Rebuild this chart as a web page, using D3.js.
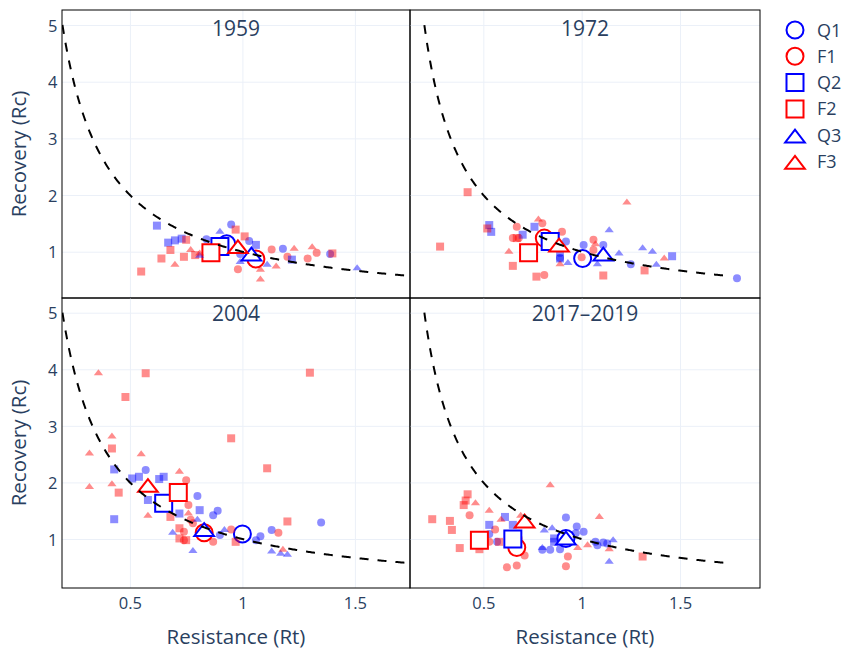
<!DOCTYPE html>
<html>
<head>
<meta charset="utf-8">
<script src="https://cdn.jsdelivr.net/npm/d3@7"></script>
<style>
  html, body { margin: 0; padding: 0; background: #fff; }
  svg { font-family: 'Open Sans', verdana, arial, sans-serif; }
</style>
</head>
<body>
<div id="chart"></div>
<script>
// Resistance / recovery facets (one panel per period)
var panelTitles = ['1959', '1972', '2004', '2017–2019'];
var groupNames = ['Q1', 'F1', 'Q2', 'F2', 'Q3', 'F3'];
var groupColors = ['blue', 'red', 'blue', 'red', 'blue', 'red'];
var groupSymbols = ['circle', 'circle', 'square', 'square', 'triangle', 'triangle'];
var xTicks = [0.5, 1, 1.5];
var yTicks = [1, 2, 3, 4, 5];
var curveRange = [0.2, 1.75]; // reference curve Rc = 1 / Rt

// individual points: [group, Rt, Rc]
var pts1959 = [
  ['Q1',0.95,1.48],['Q1',0.84,1.22],['Q1',1.03,1.19],['Q1',1.18,1.05],['Q1',1.39,0.96],['Q1',0.99,0.96],
  ['Q2',0.62,1.46],['Q2',0.67,1.16],['Q2',0.70,1.20],['Q2',0.73,1.23],['Q2',1.06,1.12],['Q2',1.22,0.86],
  ['Q3',0.90,1.35],['Q3',0.81,0.93],['Q3',1.11,0.77],['Q3',1.51,0.71],['Q3',0.99,0.82],
  ['F1',1.13,1.04],['F1',1.29,0.88],['F1',0.98,0.69],['F1',1.20,0.91],['F1',1.33,0.98],
  ['F2',0.97,1.39],['F2',1.01,1.27],['F2',0.75,1.21],['F2',0.68,1.03],['F2',0.64,0.88],['F2',0.55,0.65],
  ['F2',0.74,0.91],['F2',0.79,0.94],['F2',1.40,0.97],
  ['F3',0.77,1.03],['F3',0.70,0.77],['F3',1.15,0.74],['F3',1.08,0.51],['F3',1.23,1.05],['F3',1.31,1.08],
  ['F3',1.08,0.68],['F3',0.81,0.97]
];
var pts1972 = [
  ['Q1',1.79,0.53],['Q1',1.25,0.78],['Q1',0.89,0.89],['Q1',1.01,1.12],['Q1',1.11,1.12],['Q1',0.92,1.18],['Q1',0.89,0.98],
  ['Q2',0.53,1.47],['Q2',0.54,1.35],['Q2',0.76,1.44],['Q2',0.70,1.30],['Q2',1.46,0.92],['Q2',0.89,0.88],
  ['Q3',1.14,1.38],['Q3',1.31,1.06],['Q3',1.36,1.00],['Q3',1.38,0.77],['Q3',1.19,0.97],['Q3',0.93,0.80],['Q3',1.08,0.78],
  ['F1',0.80,1.50],['F1',0.67,1.44],['F1',0.90,1.35],['F1',0.68,1.24],['F1',1.06,1.21],['F1',0.81,0.59],
  ['F1',0.65,1.24],['F1',1.06,1.03],['F1',1.00,0.90],
  ['F2',0.42,2.05],['F2',0.28,1.09],['F2',0.52,1.41],['F2',0.65,0.75],['F2',0.77,0.56],['F2',1.11,0.58],
  ['F2',1.32,0.67],['F2',0.67,1.24],
  ['F3',1.23,1.87],['F3',0.78,1.57],['F3',0.63,1.00],['F3',1.42,0.88],['F3',0.89,0.78],['F3',1.07,1.13]
];
var pts2004 = [
  ['Q1',0.57,2.22],['Q1',0.80,1.76],['Q1',0.87,1.42],['Q1',0.89,1.50],['Q1',1.13,1.16],['Q1',1.35,1.29],
  ['Q1',1.08,1.05],['Q1',1.06,0.98],['Q1',0.90,1.07],
  ['Q2',0.43,1.35],['Q2',0.43,2.23],['Q2',0.51,2.07],['Q2',0.54,2.10],['Q2',0.63,2.06],['Q2',0.65,2.10],
  ['Q2',0.58,1.69],['Q2',0.81,1.51],['Q2',0.72,1.45],
  ['Q3',0.69,1.11],['Q3',0.78,0.79],['Q3',1.13,0.78],['Q3',1.17,0.74],['Q3',1.20,0.72],['Q3',0.92,1.16],['Q3',0.80,1.34],
  ['F1',0.75,2.04],['F1',0.76,1.60],['F1',0.77,1.34],['F1',1.16,1.11],['F1',0.95,1.17],['F1',0.87,0.95],
  ['F1',0.74,0.98],['F1',0.78,1.28],['F1',0.74,1.13],
  ['F2',0.57,3.93],['F2',1.30,3.94],['F2',0.48,3.51],['F2',0.95,2.78],['F2',0.42,2.60],['F2',1.11,2.25],
  ['F2',0.45,1.82],['F2',1.20,1.31],['F2',0.68,1.39],['F2',0.72,1.01],['F2',0.75,0.98],['F2',0.72,1.19],['F2',0.97,0.95],
  ['F3',0.36,3.93],['F3',0.42,2.81],['F3',0.32,2.51],['F3',0.55,2.50],['F3',0.42,1.97],['F3',0.32,1.92],
  ['F3',0.72,2.19],['F3',0.58,1.41],['F3',0.76,1.45],['F3',1.18,0.81]
];
var pts2019 = [
  ['Q1',0.92,1.38],['Q1',1.01,1.13],['Q1',0.89,0.82],['Q1',1.08,0.89],['Q1',1.11,0.94],['Q1',0.84,0.81],
  ['Q1',0.53,1.09],['Q1',1.13,0.92],['Q1',0.80,0.81],['Q1',1.07,0.95],['Q1',0.97,1.10],['Q1',0.975,1.22],['Q1',0.57,0.95],
  ['Q2',0.61,1.39],['Q2',0.53,1.25],['Q2',0.86,0.95],['Q2',0.65,1.25],['Q2',0.86,1.01],
  ['Q3',1.14,0.60],['Q3',1.16,0.98],['Q3',0.80,0.84],['Q3',0.81,1.15],['Q3',0.90,0.94],['Q3',0.85,1.19],
  ['F1',0.43,1.42],['F1',0.62,0.50],['F1',0.67,0.53],['F1',0.92,0.52],['F1',0.93,0.69],['F1',0.71,0.71],
  ['F1',0.56,1.17],['F1',0.53,0.95],['F1',0.68,1.01],
  ['F2',0.24,1.35],['F2',0.33,1.32],['F2',0.34,1.16],['F2',0.38,0.84],['F2',0.42,1.79],['F2',0.41,1.68],
  ['F2',0.40,1.60],['F2',0.48,0.82],['F2',1.31,0.69],['F2',0.58,0.95],
  ['F3',0.84,1.95],['F3',1.09,1.39],['F3',0.46,1.63],['F3',0.53,1.50],['F3',0.59,1.34],['F3',1.14,0.82],
  ['F3',1.03,0.89],['F3',0.98,0.84],['F3',0.69,1.41]
];

// group means: [group, Rt, Rc]
var means1959 = [['Q1',0.93,1.14],['F1',1.06,0.87],['Q2',0.90,1.09],['F2',0.86,0.98],['Q3',1.04,0.92],['F3',0.98,1.05]];
var means1972 = [['Q1',1.005,0.88],['F1',0.81,1.24],['Q2',0.84,1.18],['F2',0.73,0.98],['Q3',1.11,0.92],['F3',0.885,1.08]];
var means2004 = [['Q1',1.00,1.09],['F1',0.83,1.11],['Q2',0.65,1.63],['F2',0.715,1.82],['Q3',0.83,1.13],['F3',0.58,1.91]];
var means2019 = [['Q1',0.92,1.01],['F1',0.67,0.85],['Q2',0.65,1.00],['F2',0.48,0.98],['Q3',0.92,0.98],['F3',0.71,1.28]];

(function(){
  var W = 848, H = 657;
  var textColor = '#2a3f5f';
  var fontFamily = "'Open Sans', verdana, arial, sans-serif";
  var cols = [
    { px: [62, 410], dom: [0.198, 1.745] },
    { px: [410, 760], dom: [0.127, 1.907] }
  ];
  var rows = [
    { px: [298, 10], dom: [0.183, 5.265], titleY: 36 },
    { px: [588, 298], dom: [0.134, 5.26], titleY: 321 }
  ];
  var panels = [
    { title: panelTitles[0], pts: pts1959, means: means1959, col: 0, row: 0 },
    { title: panelTitles[1], pts: pts1972, means: means1972, col: 1, row: 0 },
    { title: panelTitles[2], pts: pts2004, means: means2004, col: 0, row: 1 },
    { title: panelTitles[3], pts: pts2019, means: means2019, col: 1, row: 1 }
  ];

  // plotly-like symbol paths (size = marker diameter)
  function symbolPath(sym, size){
    var r = size / 2;
    if (sym === 'square') return 'M' + r + ',' + r + 'H-' + r + 'V-' + r + 'H' + r + 'Z';
    if (sym === 'triangle'){
      var rt = r * 2 / Math.sqrt(3);
      return 'M-' + rt + ',' + (r / 2) + 'H' + rt + 'L0,-' + r + 'Z';
    }
    return 'M' + r + ',0A' + r + ',' + r + ' 0 1,1 0,-' + r + 'A' + r + ',' + r + ' 0 0,1 ' + r + ',0Z';
  }

  var svg = d3.select('#chart').append('svg')
    .attr('width', W).attr('height', H);

  function cleanGrid(sel){
    sel.select('.domain').remove();
    sel.selectAll('line').attr('stroke', '#ebf0f8').attr('stroke-width', 1);
  }

  panels.forEach(function(p, i){
    var c = cols[p.col], r = rows[p.row];
    var x = d3.scaleLinear().domain(c.dom).range(c.px);
    var y = d3.scaleLinear().domain(r.dom).range(r.px);
    var x0 = c.px[0], x1 = c.px[1], y0 = r.px[1], y1 = r.px[0];

    // gridlines
    svg.append('g')
      .attr('transform', 'translate(0,' + y1 + ')')
      .call(d3.axisBottom(x).tickValues(xTicks).tickSize(-(y1 - y0)).tickFormat(''))
      .call(cleanGrid);
    svg.append('g')
      .attr('transform', 'translate(' + x0 + ',0)')
      .call(d3.axisLeft(y).tickValues(yTicks).tickSize(-(x1 - x0)).tickFormat(''))
      .call(cleanGrid);

    svg.append('clipPath').attr('id', 'clip' + i)
      .append('rect').attr('x', x0).attr('y', y0).attr('width', x1 - x0).attr('height', y1 - y0);
    var plot = svg.append('g').attr('clip-path', 'url(#clip' + i + ')');

    groupNames.forEach(function(gn, k){
      plot.selectAll(null)
        .data(p.pts.filter(function(d){ return d[0] === gn; }))
        .enter().append('path')
        .attr('transform', function(d){ return 'translate(' + x(d[1]) + ',' + y(d[2]) + ')'; })
        .attr('d', symbolPath(groupSymbols[k], 8))
        .attr('fill', groupColors[k])
        .attr('fill-opacity', 0.45);
      plot.selectAll(null)
        .data(p.means.filter(function(d){ return d[0] === gn; }))
        .enter().append('path')
        .attr('transform', function(d){ return 'translate(' + x(d[1]) + ',' + y(d[2]) + ')'; })
        .attr('d', symbolPath(groupSymbols[k], 17))
        .attr('fill', '#fff')
        .attr('stroke', groupColors[k])
        .attr('stroke-width', 2);
    });

    // dashed reference curve
    var curvePts = d3.range(curveRange[0], curveRange[1] + 1e-9, 0.005);
    plot.append('path')
      .datum(curvePts)
      .attr('d', d3.line().x(function(t){ return x(t); }).y(function(t){ return y(1 / t); }))
      .attr('fill', 'none')
      .attr('stroke', '#000')
      .attr('stroke-width', 2)
      .attr('stroke-dasharray', '9,9');

    // frame
    svg.append('rect')
      .attr('x', x0).attr('y', y0).attr('width', x1 - x0).attr('height', y1 - y0)
      .attr('fill', 'none').attr('stroke', '#000').attr('stroke-width', 1);

    // facet title
    svg.append('text')
      .attr('x', (x0 + x1) / 2).attr('y', r.titleY)
      .attr('text-anchor', 'middle')
      .style('font-size', '21px').style('fill', textColor)
      .text(p.title);

    // tick labels
    if (p.col === 0){
      var ay = svg.append('g').attr('transform', 'translate(' + x0 + ',0)')
        .call(d3.axisLeft(y).tickValues(yTicks).tickSize(0).tickPadding(4.5).tickFormat(d3.format('')));
      ay.select('.domain').remove();
      ay.selectAll('text').attr('dy', '0.38em').style('font-size', '16.5px').style('fill', textColor)
        .style('font-family', fontFamily);
    }
    if (p.row === 1){
      var ax = svg.append('g').attr('transform', 'translate(0,' + y1 + ')')
        .call(d3.axisBottom(x).tickValues(xTicks).tickSize(0).tickPadding(9).tickFormat(d3.format('')));
      ax.select('.domain').remove();
      ax.selectAll('text').style('font-size', '16.5px').style('fill', textColor)
        .style('font-family', fontFamily);
      svg.append('text')
        .attr('x', (x0 + x1) / 2).attr('y', 644)
        .attr('text-anchor', 'middle')
        .style('font-size', '20.5px').style('fill', textColor)
        .text('Resistance (Rt)');
    }
    if (p.col === 0){
      svg.append('text')
        .attr('transform', 'translate(18,' + ((y0 + y1) / 2) + ') rotate(-90)')
        .attr('text-anchor', 'middle')
        .attr('dominant-baseline', 'central')
        .style('font-size', '20.5px').style('fill', textColor)
        .text('Recovery (Rc)');
    }
  });

  // legend
  var legend = svg.append('g').attr('transform', 'translate(795,30)');
  groupNames.forEach(function(gn, k){
    var item = legend.append('g').attr('transform', 'translate(0,' + (k * 26.3) + ')');
    item.append('path')
      .attr('d', symbolPath(groupSymbols[k], 17))
      .attr('transform', groupSymbols[k] === 'triangle' ? 'translate(0,3)' : null)
      .attr('fill', 'none')
      .attr('stroke', groupColors[k])
      .attr('stroke-width', 2);
    item.append('text')
      .attr('x', 22).attr('y', 6.5)
      .style('font-size', '18px').style('fill', textColor)
      .text(gn);
  });
})();
</script>
</body>
</html>
